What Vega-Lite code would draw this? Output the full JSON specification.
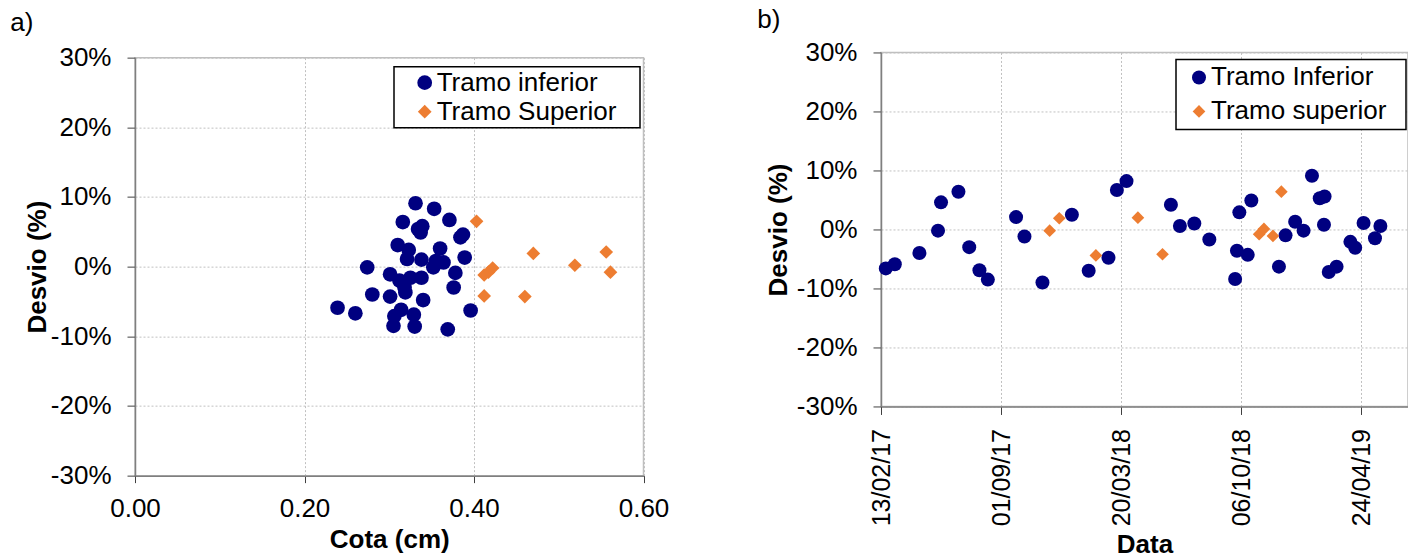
{
  "$schema": "https://vega.github.io/schema/vega-lite/v6.json",
  "background": "#ffffff",
  "padding": {"left": 9, "top": 6, "right": 0, "bottom": 0},
  "spacing": 86,
  "center": true,
  "datasets": {
    "a": [
      {"cota": 0.331, "desvio": 0.091, "serie": "Tramo inferior"},
      {"cota": 0.353, "desvio": 0.083, "serie": "Tramo inferior"},
      {"cota": 0.371, "desvio": 0.067, "serie": "Tramo inferior"},
      {"cota": 0.316, "desvio": 0.064, "serie": "Tramo inferior"},
      {"cota": 0.339, "desvio": 0.058, "serie": "Tramo inferior"},
      {"cota": 0.334, "desvio": 0.054, "serie": "Tramo inferior"},
      {"cota": 0.337, "desvio": 0.049, "serie": "Tramo inferior"},
      {"cota": 0.387, "desvio": 0.046, "serie": "Tramo inferior"},
      {"cota": 0.384, "desvio": 0.042, "serie": "Tramo inferior"},
      {"cota": 0.310, "desvio": 0.031, "serie": "Tramo inferior"},
      {"cota": 0.323, "desvio": 0.024, "serie": "Tramo inferior"},
      {"cota": 0.360, "desvio": 0.026, "serie": "Tramo inferior"},
      {"cota": 0.321, "desvio": 0.011, "serie": "Tramo inferior"},
      {"cota": 0.338, "desvio": 0.010, "serie": "Tramo inferior"},
      {"cota": 0.389, "desvio": 0.013, "serie": "Tramo inferior"},
      {"cota": 0.355, "desvio": 0.008, "serie": "Tramo inferior"},
      {"cota": 0.364, "desvio": 0.006, "serie": "Tramo inferior"},
      {"cota": 0.352, "desvio": -0.001, "serie": "Tramo inferior"},
      {"cota": 0.274, "desvio": -0.001, "serie": "Tramo inferior"},
      {"cota": 0.301, "desvio": -0.011, "serie": "Tramo inferior"},
      {"cota": 0.378, "desvio": -0.009, "serie": "Tramo inferior"},
      {"cota": 0.325, "desvio": -0.016, "serie": "Tramo inferior"},
      {"cota": 0.338, "desvio": -0.016, "serie": "Tramo inferior"},
      {"cota": 0.312, "desvio": -0.020, "serie": "Tramo inferior"},
      {"cota": 0.318, "desvio": -0.030, "serie": "Tramo inferior"},
      {"cota": 0.319, "desvio": -0.037, "serie": "Tramo inferior"},
      {"cota": 0.376, "desvio": -0.030, "serie": "Tramo inferior"},
      {"cota": 0.280, "desvio": -0.040, "serie": "Tramo inferior"},
      {"cota": 0.301, "desvio": -0.043, "serie": "Tramo inferior"},
      {"cota": 0.340, "desvio": -0.048, "serie": "Tramo inferior"},
      {"cota": 0.239, "desvio": -0.059, "serie": "Tramo inferior"},
      {"cota": 0.260, "desvio": -0.067, "serie": "Tramo inferior"},
      {"cota": 0.396, "desvio": -0.063, "serie": "Tramo inferior"},
      {"cota": 0.314, "desvio": -0.062, "serie": "Tramo inferior"},
      {"cota": 0.306, "desvio": -0.071, "serie": "Tramo inferior"},
      {"cota": 0.329, "desvio": -0.069, "serie": "Tramo inferior"},
      {"cota": 0.305, "desvio": -0.085, "serie": "Tramo inferior"},
      {"cota": 0.330, "desvio": -0.086, "serie": "Tramo inferior"},
      {"cota": 0.369, "desvio": -0.090, "serie": "Tramo inferior"},
      {"cota": 0.403, "desvio": 0.065, "serie": "Tramo Superior"},
      {"cota": 0.470, "desvio": 0.019, "serie": "Tramo Superior"},
      {"cota": 0.556, "desvio": 0.021, "serie": "Tramo Superior"},
      {"cota": 0.519, "desvio": 0.002, "serie": "Tramo Superior"},
      {"cota": 0.561, "desvio": -0.008, "serie": "Tramo Superior"},
      {"cota": 0.422, "desvio": -0.002, "serie": "Tramo Superior"},
      {"cota": 0.417, "desvio": -0.008, "serie": "Tramo Superior"},
      {"cota": 0.412, "desvio": -0.012, "serie": "Tramo Superior"},
      {"cota": 0.412, "desvio": -0.042, "serie": "Tramo Superior"},
      {"cota": 0.460, "desvio": -0.043, "serie": "Tramo Superior"}
    ],
    "b": [
      {"data": "2017-02-21", "desvio": -0.066, "serie": "Tramo Inferior"},
      {"data": "2017-03-08", "desvio": -0.059, "serie": "Tramo Inferior"},
      {"data": "2017-04-18", "desvio": -0.040, "serie": "Tramo Inferior"},
      {"data": "2017-05-19", "desvio": -0.002, "serie": "Tramo Inferior"},
      {"data": "2017-05-24", "desvio": 0.046, "serie": "Tramo Inferior"},
      {"data": "2017-06-22", "desvio": 0.064, "serie": "Tramo Inferior"},
      {"data": "2017-07-10", "desvio": -0.030, "serie": "Tramo Inferior"},
      {"data": "2017-07-27", "desvio": -0.069, "serie": "Tramo Inferior"},
      {"data": "2017-08-10", "desvio": -0.085, "serie": "Tramo Inferior"},
      {"data": "2017-09-26", "desvio": 0.021, "serie": "Tramo Inferior"},
      {"data": "2017-10-10", "desvio": -0.012, "serie": "Tramo Inferior"},
      {"data": "2017-11-09", "desvio": -0.090, "serie": "Tramo Inferior"},
      {"data": "2017-12-28", "desvio": 0.025, "serie": "Tramo Inferior"},
      {"data": "2018-01-25", "desvio": -0.070, "serie": "Tramo Inferior"},
      {"data": "2018-02-27", "desvio": -0.048, "serie": "Tramo Inferior"},
      {"data": "2018-03-13", "desvio": 0.067, "serie": "Tramo Inferior"},
      {"data": "2018-03-29", "desvio": 0.082, "serie": "Tramo Inferior"},
      {"data": "2018-06-11", "desvio": 0.042, "serie": "Tramo Inferior"},
      {"data": "2018-06-26", "desvio": 0.006, "serie": "Tramo Inferior"},
      {"data": "2018-07-20", "desvio": 0.010, "serie": "Tramo Inferior"},
      {"data": "2018-08-14", "desvio": -0.017, "serie": "Tramo Inferior"},
      {"data": "2018-10-03", "desvio": 0.029, "serie": "Tramo Inferior"},
      {"data": "2018-10-23", "desvio": 0.049, "serie": "Tramo Inferior"},
      {"data": "2018-09-29", "desvio": -0.036, "serie": "Tramo Inferior"},
      {"data": "2018-10-17", "desvio": -0.043, "serie": "Tramo Inferior"},
      {"data": "2018-09-26", "desvio": -0.084, "serie": "Tramo Inferior"},
      {"data": "2018-12-19", "desvio": -0.010, "serie": "Tramo Inferior"},
      {"data": "2018-12-08", "desvio": -0.063, "serie": "Tramo Inferior"},
      {"data": "2019-01-04", "desvio": 0.013, "serie": "Tramo Inferior"},
      {"data": "2019-01-18", "desvio": -0.002, "serie": "Tramo Inferior"},
      {"data": "2019-02-01", "desvio": 0.091, "serie": "Tramo Inferior"},
      {"data": "2019-02-14", "desvio": 0.053, "serie": "Tramo Inferior"},
      {"data": "2019-02-22", "desvio": 0.056, "serie": "Tramo Inferior"},
      {"data": "2019-02-21", "desvio": 0.008, "serie": "Tramo Inferior"},
      {"data": "2019-03-01", "desvio": -0.072, "serie": "Tramo Inferior"},
      {"data": "2019-03-14", "desvio": -0.063, "serie": "Tramo Inferior"},
      {"data": "2019-04-06", "desvio": -0.021, "serie": "Tramo Inferior"},
      {"data": "2019-04-14", "desvio": -0.031, "serie": "Tramo Inferior"},
      {"data": "2019-04-28", "desvio": 0.011, "serie": "Tramo Inferior"},
      {"data": "2019-05-17", "desvio": -0.015, "serie": "Tramo Inferior"},
      {"data": "2019-05-26", "desvio": 0.006, "serie": "Tramo Inferior"},
      {"data": "2017-11-21", "desvio": -0.002, "serie": "Tramo superior"},
      {"data": "2017-12-07", "desvio": 0.019, "serie": "Tramo superior"},
      {"data": "2018-02-06", "desvio": -0.044, "serie": "Tramo superior"},
      {"data": "2018-04-17", "desvio": 0.020, "serie": "Tramo superior"},
      {"data": "2018-05-28", "desvio": -0.042, "serie": "Tramo superior"},
      {"data": "2018-11-05", "desvio": -0.008, "serie": "Tramo superior"},
      {"data": "2018-11-13", "desvio": 0.001, "serie": "Tramo superior"},
      {"data": "2018-11-28", "desvio": -0.011, "serie": "Tramo superior"},
      {"data": "2018-12-12", "desvio": 0.064, "serie": "Tramo superior"}
    ]
  },
  "hconcat": [
    {
      "width": 508.5,
      "height": 418,
      "title": {"text": "a)", "dx": -14, "offset": 9},
      "data": {"name": "a"},
      "mark": {"type": "point", "filled": true, "opacity": 1, "strokeWidth": 0},
      "encoding": {
        "x": {
          "field": "cota", "type": "quantitative",
          "scale": {"domain": [0, 0.6], "nice": false, "zero": false},
          "axis": {"title": "Cota (cm)", "values": [0, 0.2, 0.4, 0.6], "format": ".2f", "tickSize": 7, "labelPadding": 13, "titlePadding": 5}
        },
        "y": {
          "field": "desvio", "type": "quantitative",
          "scale": {"domain": [-0.3, 0.3], "nice": false},
          "axis": {"title": "Desvio (%)", "values": [-0.3, -0.2, -0.1, 0, 0.1, 0.2, 0.3], "format": ".0%", "labelExpr": "replace(datum.label, '\u2212', '-')", "titlePadding": 0}
        },
        "color": {
          "field": "serie", "type": "nominal",
          "scale": {"domain": ["Tramo inferior", "Tramo Superior"], "range": ["#000080", "#ED7D31"]},
          "legend": {"title": null, "orient": "none", "legendX": 259, "legendY": 9, "padding": 3, "rowPadding": 3, "symbolOffset": 14.7, "labelOffset": -1, "labelExpr": "datum.label + '\u00a0\u00a0\u2009\u200b'"}
        },
        "shape": {
          "field": "serie", "type": "nominal",
          "scale": {"domain": ["Tramo inferior", "Tramo Superior"], "range": ["circle", "diamond"]},
          "legend": {"title": null, "orient": "none", "legendX": 259, "legendY": 9, "padding": 3, "rowPadding": 3, "symbolOffset": 14.7, "labelOffset": -1, "labelExpr": "datum.label + '\u00a0\u00a0\u2009\u200b'"}
        },
        "size": {
          "field": "serie", "type": "nominal",
          "scale": {"domain": ["Tramo inferior", "Tramo Superior"], "range": [216, 188]},
          "legend": {"title": null, "orient": "none", "legendX": 259, "legendY": 9, "padding": 3, "rowPadding": 3, "symbolOffset": 14.7, "labelOffset": -1, "labelExpr": "datum.label + '\u00a0\u00a0\u2009\u200b'"}
        }
      }
    },
    {
      "width": 527,
      "height": 354,
      "title": {"text": "b)", "dx": -8, "offset": 6.3},
      "data": {"name": "b"},
      "mark": {"type": "point", "filled": true, "opacity": 1, "strokeWidth": 0},
      "encoding": {
        "x": {
          "field": "data", "type": "temporal",
          "scale": {"type": "utc", "nice": false, "domain": [{"year": 2017, "month": 2, "date": 13, "utc": true}, {"year": 2019, "month": 7, "date": 11, "utc": true}]},
          "axis": {
            "title": "Data",
            "values": [
              {"year": 2017, "month": 2, "date": 13, "utc": true},
              {"year": 2017, "month": 9, "date": 1, "utc": true},
              {"year": 2018, "month": 3, "date": 20, "utc": true},
              {"year": 2018, "month": 10, "date": 6, "utc": true},
              {"year": 2019, "month": 4, "date": 24, "utc": true}
            ],
            "format": "%d/%m/%y", "labelAngle": -90, "labelFontSize": 25, "tickSize": 8, "labelPadding": 14, "titlePadding": 6
          }
        },
        "y": {
          "field": "desvio", "type": "quantitative",
          "scale": {"domain": [-0.3, 0.3], "nice": false},
          "axis": {"title": "Desvio (%)", "values": [-0.3, -0.2, -0.1, 0, 0.1, 0.2, 0.3], "format": ".0%", "labelExpr": "replace(datum.label, '\u2212', '-')", "titlePadding": 5}
        },
        "color": {
          "field": "serie", "type": "nominal",
          "scale": {"domain": ["Tramo Inferior", "Tramo superior"], "range": ["#000080", "#ED7D31"]},
          "legend": {"title": null, "orient": "none", "legendX": 295, "legendY": 7, "padding": 5, "rowPadding": 8, "symbolOffset": 5, "labelOffset": -1, "labelExpr": "datum.label + '\u00a0\u00a0\u200b'"}
        },
        "shape": {
          "field": "serie", "type": "nominal",
          "scale": {"domain": ["Tramo Inferior", "Tramo superior"], "range": ["circle", "diamond"]},
          "legend": {"title": null, "orient": "none", "legendX": 295, "legendY": 7, "padding": 5, "rowPadding": 8, "symbolOffset": 5, "labelOffset": -1, "labelExpr": "datum.label + '\u00a0\u00a0\u200b'"}
        },
        "size": {
          "field": "serie", "type": "nominal",
          "scale": {"domain": ["Tramo Inferior", "Tramo superior"], "range": [196, 161]},
          "legend": {"title": null, "orient": "none", "legendX": 295, "legendY": 7, "padding": 5, "rowPadding": 8, "symbolOffset": 5, "labelOffset": -1, "labelExpr": "datum.label + '\u00a0\u00a0\u200b'"}
        }
      }
    }
  ],
  "resolve": {"scale": {"color": "independent", "shape": "independent", "size": "independent"}},
  "config": {
    "font": "Liberation Sans",
    "view": {"stroke": "#bfbfbf", "strokeWidth": 1.5},
    "title": {"font": "Liberation Sans", "fontSize": 26, "fontWeight": "normal", "color": "#000000", "anchor": "start", "frame": "bounds"},
    "axis": {
      "labelFont": "Liberation Sans", "labelFontSize": 26, "labelColor": "#000000",
      "titleFont": "Liberation Sans", "titleFontSize": 26, "titleFontWeight": "bold", "titleColor": "#000000",
      "domainColor": "#7f7f7f", "domainWidth": 1.5,
      "tickColor": "#404040", "tickSize": 8, "tickWidth": 1,
      "gridColor": "#c0c0c0", "gridDash": [2, 2], "gridWidth": 1,
      "labelPadding": 16, "labelOverlap": false, "labelBound": false, "labelFlush": false
    },
    "legend": {
      "labelFont": "Liberation Sans", "labelFontSize": 26, "labelColor": "#000000", "labelLimit": 400,
      "strokeColor": "#000000", "fillColor": "#ffffff", "strokeWidth": 1.5,
      "symbolStrokeWidth": 0, "symbolOpacity": 1
    }
  }
}
